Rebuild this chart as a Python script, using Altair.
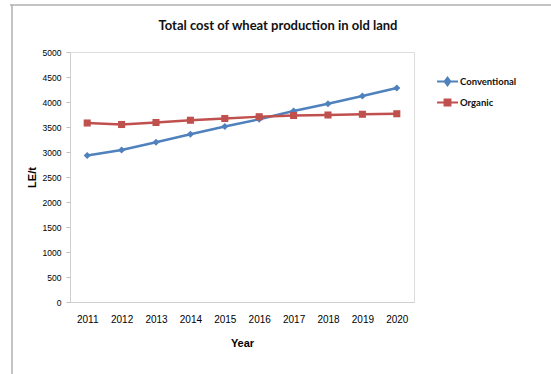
import altair as alt
import pandas as pd

years = ["2011", "2012", "2013", "2014", "2015", "2016", "2017", "2018", "2019", "2020"]
conventional = [2930, 3040, 3195, 3355, 3510, 3655, 3820, 3965, 4120, 4280]
organic = [3580, 3550, 3590, 3635, 3670, 3705, 3730, 3740, 3755, 3765]

series_names = ["Conventional", "Organic"]
series_colors = ["#4F81BD", "#C0504D"]
series_shapes = ["diamond", "square"]

df = pd.DataFrame(
    [{"Year": y, "Series": "Conventional", "Cost": v} for y, v in zip(years, conventional)]
    + [{"Year": y, "Series": "Organic", "Cost": v} for y, v in zip(years, organic)]
)

FONT = "Lato"

# legend glyphs: a short line with the series marker in the middle
# (nested outlines so the stroked marker reads as solid)
legend_paths = [
    "M-1,0H1M0,-0.36L0.27,0L0,0.36L-0.27,0ZM0,-0.14L0.1,0L0,0.14L-0.1,0Z",
    "M-1,0H1M-0.28,-0.28H0.28V0.28H-0.28ZM-0.1,-0.1H0.1V0.1H-0.1Z",
]

x_enc = alt.X(
    "Year:O",
    sort=years,
    title="Year",
    axis=alt.Axis(
        labelAngle=0,
        ticks=False,
        domainColor="#d0d0d0",
        labelPadding=12,
        titlePadding=13,
    ),
)
y_enc = alt.Y(
    "Cost:Q",
    title="LE/t",
    scale=alt.Scale(domain=[0, 5000]),
    axis=alt.Axis(
        values=list(range(0, 5001, 500)),
        format="d",
        labelOverlap=False,
        labelFontSize=8.5,
        grid=False,
        domainColor="#d0d0d0",
        tickColor="#c0c0c0",
        tickSize=4,
        labelPadding=5,
        titlePadding=5,
    ),
)


def series_layers(name, color, shape):
    base = alt.Chart(df).transform_filter(alt.datum.Series == name)
    line = base.mark_line(color=color, strokeWidth=2.4).encode(x=x_enc, y=y_enc)
    pts = base.mark_point(color=color, shape=shape, filled=True, opacity=1, size=50).encode(
        x=x_enc, y=y_enc
    )
    return [line, pts]


legend_props = dict(
    title=None,
    orient="none",
    legendX=366,
    legendY=18,
    symbolSize=441,
    symbolOpacity=1,
    symbolStrokeWidth=2,
    labelFontSize=9.5,
    labelFont=FONT,
    labelFontWeight="bold",
    labelColor="#111",
    labelOffset=1,
    rowPadding=1,
)

# invisible layer that only carries the legend
legend_layer = (
    alt.Chart(df)
    .mark_point(filled=False, opacity=0, strokeWidth=2)
    .encode(
        x=x_enc,
        y=y_enc,
        color=alt.Color(
            "Series:N",
            scale=alt.Scale(domain=series_names, range=series_colors),
            legend=alt.Legend(**legend_props),
        ),
        shape=alt.Shape(
            "Series:N",
            scale=alt.Scale(domain=series_names, range=legend_paths),
            legend=alt.Legend(**legend_props),
        ),
    )
)

# outer frame edges (top and left)
frame_top = alt.Chart().mark_rule(color="#b0b0b0", strokeWidth=1.5).encode(
    x=alt.value(-60), x2=alt.value(490), y=alt.value(-47)
)
frame_left = alt.Chart().mark_rule(color="#b0b0b0", strokeWidth=1.5).encode(
    x=alt.value(-58), y=alt.value(-47), y2=alt.value(330)
)

layers = [frame_top, frame_left]
for n, c, s in zip(series_names, series_colors, series_shapes):
    layers += series_layers(n, c, s)
layers.append(legend_layer)

chart = (
    alt.layer(*layers)
    .properties(
        width=344,
        height=250,
        autosize=alt.AutoSizeParams(type="none"),
        padding={"left": 70, "top": 52, "right": 137, "bottom": 72},
        title=alt.TitleParams(
            "Total cost of wheat production in old land",
            font=FONT,
            fontSize=13,
            fontWeight="bold",
            color="#111",
            anchor="middle",
            frame="group",
            dx=36,
            offset=-29,
        ),
    )
    .configure_view(stroke=None)
    .configure_axis(
        labelFont=FONT,
        labelFontSize=9,
        labelFontWeight="bold",
        labelColor="#111",
        titleFont=FONT,
        titleFontSize=9.5,
        titleFontWeight="bold",
        titleColor="#111",
    )
    .configure(background="white")
)

chart.save("out.html", embed_options={"renderer": "svg", "actions": False})
